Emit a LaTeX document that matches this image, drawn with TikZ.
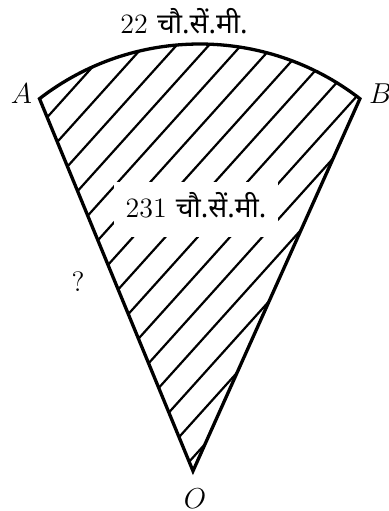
\documentclass[tikz,border=0pt]{standalone}
\usepackage{fontspec}
\newfontfamily\devfont[Script=Devanagari]{Noto Sans}
\usetikzlibrary{positioning}

\begin{document}
\begin{tikzpicture}[
			x=0.5pt, y=0.5pt,
			% stile del bordo del settore
			edge/.style={line width=1.65pt, line join=miter},
			% stile del tratteggio
			hatch/.style={line width=1.1pt},
			% stile delle etichette
			lbl/.style={inner sep=0pt, font=\fontsize{14}{16}\selectfont}
			]
			\useasboundingbox (0,0) rectangle (388,511);
			
			% --- PUNTI DEL SETTORE ---
			\coordinate (O) at (193,40);
			\coordinate (A) at (39.5,412.3);
			\coordinate (B) at (360.7,412.3);
			
			% --- TRATTEGGIO ---
			\begin{scope}
				\clip (O) -- (A) arc[start angle=127.7, end angle=52.3, radius=131pt] -- cycle;
				\begin{scope}[shift={(47.7,394.3)}, rotate=48]
					\foreach \k in {0,...,14}
					\draw[hatch] (-600,-24*\k) -- (600,-24*\k);
				\end{scope}
			\end{scope}
			
			% --- AREA ---
			\node[lbl, anchor=base, fill=white, inner xsep=6pt, inner ysep=2pt,
				text height=15.6pt, text depth=7.9pt] (area) at (196,293.7)
				{231 {\devfont चौ.सें.मी.}};
			
			% --- BORDO ---
			\draw[edge] (O) -- (A) arc[start angle=127.7, end angle=52.3, radius=131pt] -- cycle;
			
			% --- ETICHETTE ---
			\node[lbl, anchor=base] (arclen) at (184,478) {22 {\devfont चौ.सें.मी.}};
			\node[lbl, left=3.5pt of A, yshift=2.4pt] (lblA) {$A$};
			\node[lbl, right=4pt of B, yshift=2.5pt] (lblB) {$B$};
			\node[lbl, below=8.5pt of O, xshift=1pt] (lblO) {$O$};
			\node[lbl] (radius) at (78,229) {?};
			
		\end{tikzpicture}
\end{document}
